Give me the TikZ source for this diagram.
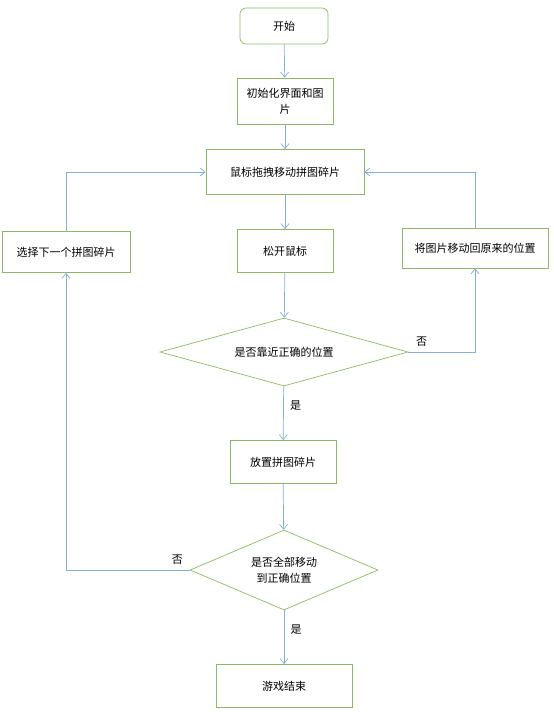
\documentclass[tikz,border=0pt]{standalone}
\usepackage{fontspec}
\newfontfamily\cjk{Noto Sans CJK SC}
\usetikzlibrary{arrows.meta,shapes.geometric}
\definecolor{boxgreen}{RGB}{140,186,96}
\definecolor{lineblue}{RGB}{130,176,222}

\begin{document}
\begin{tikzpicture}[x=1pt, y=-1pt, font=\cjk\fontsize{11}{16}\selectfont,
	>={Straight Barb[length=5pt,width=8pt]},
	procbox/.style={draw=boxgreen, line width=0.7pt, inner sep=2pt, align=center},
	startbox/.style={procbox, rounded corners=6pt},
	decision/.style={draw=boxgreen, line width=0.7pt, diamond, inner sep=0pt, align=center},
	flow/.style={draw=lineblue, line width=0.7pt, ->}]
	\useasboundingbox (0,0) rectangle (554,712);
	\node[startbox, minimum width=88, minimum height=36] (start) at (284,26) {开始};
	\node[procbox, minimum width=96, minimum height=46] (init) at (285,101) {初始化界面和图\\片};
	\node[procbox, minimum width=158, minimum height=45] (drag) at (285,172) {鼠标拖拽移动拼图碎片};
	\node[procbox, minimum width=96, minimum height=43] (release) at (285,251) {松开鼠标};
	\node[procbox, minimum width=128, minimum height=41] (next) at (66,252) {选择下一个拼图碎片};
	\node[procbox, minimum width=146, minimum height=40] (back) at (475,248) {将图片移动回原来的位置};
	\node[decision, aspect=3.65, minimum width=248, minimum height=68] (near) at (284,352) {是否靠近正确的位置};
	\node[procbox, minimum width=106, minimum height=43] (place) at (283,462) {放置拼图碎片};
	\node[decision, aspect=2.35, minimum width=188, minimum height=80] (all) at (284,570) {是否全部移动\\到正确位置};
	\node[procbox, minimum width=136, minimum height=43] (finish) at (284,686) {游戏结束};
	% main flow
	\draw[flow] (start) -- (init);
	\draw[flow] (init) -- (drag);
	\draw[flow] (drag) -- (release);
	\draw[flow] (release) -- (near);
	\draw[flow] (near) -- node[right, pos=0.35, xshift=3pt] {是} (place);
	\draw[flow] (place) -- (all);
	\draw[flow] (all) -- node[right, pos=0.35, xshift=3pt] {是} (finish);
	% loops
	\draw[flow] (near.east) -- node[above, pos=0.2, yshift=2pt] {否} (near.east -| back.south) -- (back.south);
	\draw[flow] (back.north) |- (drag.east);
	\draw[flow] (all.west) -- node[above, pos=0.1, yshift=2pt] {否} (all.west -| next.south) -- (next.south);
	\draw[flow] (next.north) |- (drag.west);
\end{tikzpicture}
\end{document}
